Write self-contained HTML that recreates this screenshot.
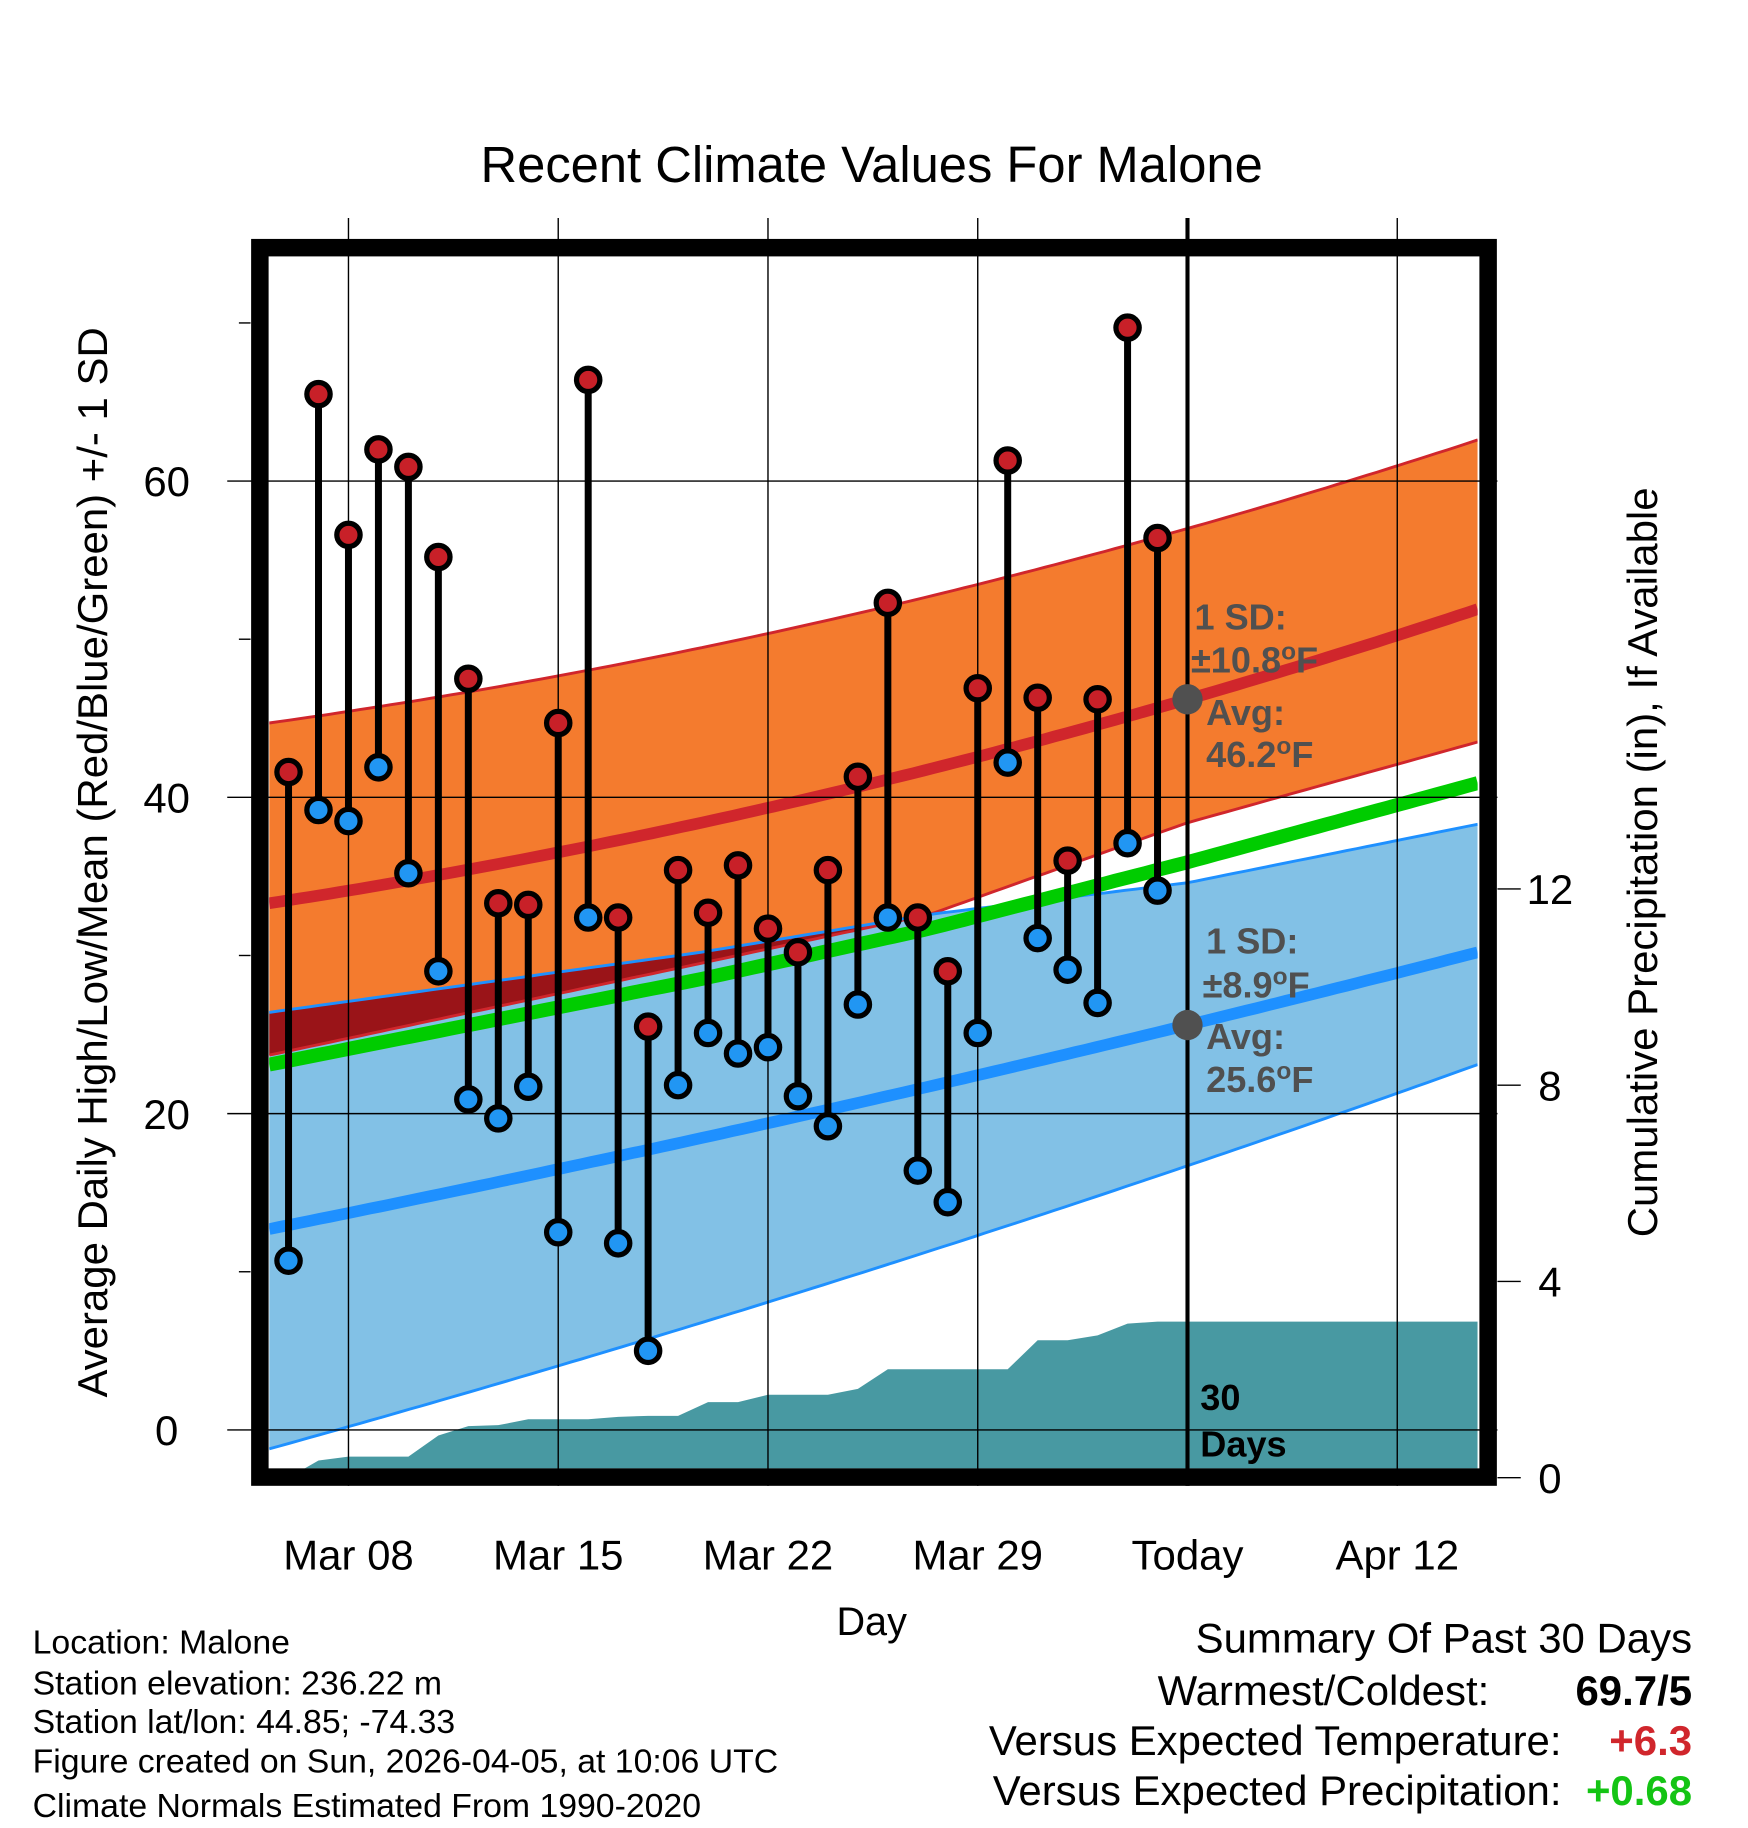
<!DOCTYPE html>
<html><head><meta charset="utf-8"><style>
html,body{margin:0;padding:0;background:#fff;}
svg{display:block;font-family:"Liberation Sans",Arial,sans-serif;}
</style></head><body>
<svg id="chart" width="1748" height="1828" viewBox="0 0 1500 1568.6" xmlns="http://www.w3.org/2000/svg">
<rect x="0" y="0" width="1500" height="1568.6" fill="#fff"/>
<g id="plot"></g>
<text x="748" y="156" font-size="43.5" text-anchor="middle">Recent Climate Values For Malone</text>
<text transform="translate(92,740) rotate(-90)" font-size="36" text-anchor="middle">Average Daily High/Low/Mean (Red/Blue/Green) +/- 1 SD</text>
<text transform="translate(1422,740) rotate(-90)" font-size="36" text-anchor="middle">Cumulative Precipitation (in), If Available</text>
<text x="748" y="1403" font-size="34" text-anchor="middle">Day</text>
<g font-size="29">
<text x="28" y="1419">Location: Malone</text>
<text x="28" y="1454">Station elevation: 236.22 m</text>
<text x="28" y="1487">Station lat/lon: 44.85; -74.33</text>
<text x="28" y="1521">Figure created on Sun, 2026-04-05, at 10:06 UTC</text>
<text x="28" y="1559">Climate Normals Estimated From 1990-2020</text>
</g>
<g font-size="36" text-anchor="end">
<text x="1452" y="1418">Summary Of Past 30 Days</text>
<text x="1278" y="1463">Warmest/Coldest:</text>
<text x="1452" y="1463" font-weight="bold">69.7/5</text>
<text x="1340" y="1506">Versus Expected Temperature:</text>
<text x="1452" y="1506" font-weight="bold" fill="#d0262c">+6.3</text>
<text x="1340" y="1549">Versus Expected Precipitation:</text>
<text x="1452" y="1549" font-weight="bold" fill="#14c414">+0.68</text>
</g>
</svg>
<script>
// data
const highs=[41.6,65.5,56.6,62.0,60.9,55.2,47.5,33.3,33.2,44.7,66.4,32.4,25.5,35.4,32.7,35.7,31.7,30.2,35.4,41.3,52.3,32.4,29.0,46.9,61.3,46.3,36.0,46.2,69.7,56.4];
const lows=[10.7,39.2,38.5,41.9,35.2,29.0,20.9,19.7,21.7,12.5,32.4,11.8,5.0,21.8,25.1,23.8,24.2,21.1,19.2,26.9,32.4,16.4,14.4,25.1,42.2,31.1,29.1,27.0,37.1,34.1];
const precip=[0,0.35,0.43,0.43,0.43,0.86,1.05,1.07,1.19,1.19,1.19,1.24,1.26,1.26,1.54,1.54,1.69,1.69,1.69,1.81,2.21,2.21,2.21,2.21,2.21,2.80,2.80,2.90,3.14,3.18];
// normals at [plot-left, today, plot-right]
const normHigh=[33.3,46.2,51.9];
const normHighUp=[44.7,57.0,62.6];
const normLow=[12.7,25.6,30.2];
const normLowLo=[-1.2,16.7,23.1];
// normals at knots [plot-left, Mar 19.75, Mar 27.4, today, plot-right]
const normHighLo=[23.7,29.5,32.6,38.4,43.5];
const normLowUp=[26.4,30.2,32.6,34.6,38.3];
const normMean=[23.1,28.5,31.7,35.9,40.9];
const yTicks=[0,20,40,60];
const y2Ticks=[0,4,8,12];
const xLabels=["Mar 08","Mar 15","Mar 22","Mar 29","Today","Apr 12"];
const xLabelDays=[2,9,16,23,30,37];

const NS="http://www.w3.org/2000/svg";
const L=231,R=1268,T=220,B=1260;
const X=d=>247.6+d*25.714;
const Y=v=>1227-v*13.57;
const Y2=p=>1268-p*42.1;
const dL=(L-247.6)/25.714,dT=30,dR=(R-247.6)/25.714;
const knots=[dL,13.75,21.4,30,dR];
function quad(arr,d){
 if(arr.length===5){let i=0;while(i<3&&d>knots[i+1])i++;const t=(d-knots[i])/(knots[i+1]-knots[i]);return arr[i]+(arr[i+1]-arr[i])*t;}
 const x0=dL,x1=dT,x2=dR,[a,b,c]=arr;
 return a*(d-x1)*(d-x2)/((x0-x1)*(x0-x2))+b*(d-x0)*(d-x2)/((x1-x0)*(x1-x2))+c*(d-x0)*(d-x1)/((x2-x0)*(x2-x1));}
const g=document.getElementById('plot');
function mk(tag,at,parent){const e=document.createElementNS(NS,tag);for(const k in at)e.setAttribute(k,at[k]);(parent||g).appendChild(e);return e;}
const N=120,ds=[];for(let i=0;i<=N;i++)ds.push(dL+(dR-dL)*i/N);
function linePts(arr){return ds.map(d=>X(d).toFixed(1)+','+Y(quad(arr,d)).toFixed(1));}
function band(up,lo){return linePts(up).concat(linePts(lo).reverse()).join(' ');}
const clip=mk('clipPath',{id:'pc'});mk('rect',{x:L,y:T,width:R-L,height:B-T},clip);
const pg=mk('g',{'clip-path':'url(#pc)'});
let e;
e=mk('polygon',{points:band(normLowUp,normLowLo),fill:'#82c1e6'},pg);


e=mk('polygon',{points:band(normHighUp,normHighLo),fill:'#f47b2e'},pg);


const ov=[],ovb=[];
ds.forEach(d=>{const t=Math.min(quad(normHighUp,d),quad(normLowUp,d)),b=Math.max(quad(normHighLo,d),quad(normLowLo,d));
 if(t>b){ov.push(X(d)+','+Y(t));ovb.unshift(X(d)+','+Y(b));}});
if(ov.length){e=mk('polygon',{points:ov.concat(ovb).join(' '),fill:'#9a1418'},pg);

}
[[normHighUp,'#d0262c',2.5],[normHighLo,'#d0262c',2.5],[normLowUp,'#1e90ff',2.5],[normLowLo,'#1e90ff',2.5],[normHigh,'#d0262c',10],[normLow,'#1e90ff',10],[normMean,'#00cc00',12]].forEach((s,i)=>{
 e=mk('polyline',{points:linePts(s[0]).join(' '),fill:'none',stroke:s[1],'stroke-width':s[2],'stroke-linejoin':'round'},pg);
 
 
});
let pp=[X(0)+','+(B+20)];
precip.forEach((p,i)=>pp.push(X(i)+','+Y2(p)));
pp.push(X(dR)+','+Y2(precip[precip.length-1]));pp.push(X(dR)+','+(B+20));
e=mk('polygon',{points:pp.join(' '),fill:'#4899a2'},pg);


xLabelDays.forEach((d,i)=>{
 e=mk('line',{x1:X(d),x2:X(d),y1:187,y2:1275,stroke:'#000','stroke-width':i==4?3.5:1.2});
 
 
 e=mk('text',{x:X(d),y:1347,'font-size':36,'text-anchor':'middle'});e.textContent=xLabels[i];
 
 
});
yTicks.forEach(v=>{
 e=mk('line',{x1:195,x2:1285,y1:Y(v),y2:Y(v),stroke:'#000','stroke-width':1.2});
 
 
 e=mk('text',{x:143,y:Y(v)+13,'font-size':36,'text-anchor':'middle'});e.textContent=v;
 
 
});
[10,30,50,70].forEach(v=>{mk('line',{x1:205,x2:215,y1:Y(v),y2:Y(v),stroke:'#000','stroke-width':1.2});});
y2Ticks.forEach(p=>{
 mk('line',{x1:1285,x2:1305,y1:Y2(p),y2:Y2(p),stroke:'#000','stroke-width':1.2});
 e=mk('text',{x:1330,y:Y2(p)+13,'font-size':36,'text-anchor':'middle'});e.textContent=p;
 
 
});
function txt(x,y,s,sz,fill,name){const t=mk('text',{x:x,y:y,'font-size':sz,'font-weight':'bold',fill:fill});t.innerHTML=s;
 
 return t;}
const deg='<tspan dy="-11" font-size="21">o</tspan><tspan dy="11">F</tspan>';
txt(1025,540,'1 SD:',31,'#505050','high-sd-label');
txt(1022,577,'±10.8'+deg,31,'#505050','high-sd-value');
txt(1035,622,'Avg:',31,'#505050','high-avg-label');
txt(1035,658,'46.2'+deg,31,'#505050','high-avg-value');
txt(1035,818,'1 SD:',31,'#505050','low-sd-label');
txt(1032,856,'±8.9'+deg,31,'#505050','low-sd-value');
txt(1035,900,'Avg:',31,'#505050','low-avg-label');
txt(1035,937,'25.6'+deg,31,'#505050','low-avg-value');
txt(1030,1210,'30',31,'#000','days-label');
txt(1030,1250,'Days',31,'#000','days-label-2');
mk('circle',{cx:X(30),cy:Y(quad(normHigh,30)),r:13,fill:'#505050'});
mk('circle',{cx:X(30),cy:Y(quad(normLow,30)),r:13,fill:'#505050'});
highs.forEach((h,i)=>{
 e=mk('line',{x1:X(i),x2:X(i),y1:Y(h),y2:Y(lows[i]),stroke:'#000','stroke-width':6});
 
 
});
highs.forEach((h,i)=>{
 e=mk('circle',{cx:X(i),cy:Y(h),r:10,fill:'#c82028',stroke:'#000','stroke-width':4.5});
 
 
 e=mk('circle',{cx:X(i),cy:Y(lows[i]),r:10,fill:'#2196f3',stroke:'#000','stroke-width':4.5});
 
 
});
e=mk('rect',{x:223,y:212.5,width:1054,height:1055,fill:'none',stroke:'#000','stroke-width':15});


</script>
</body></html>
